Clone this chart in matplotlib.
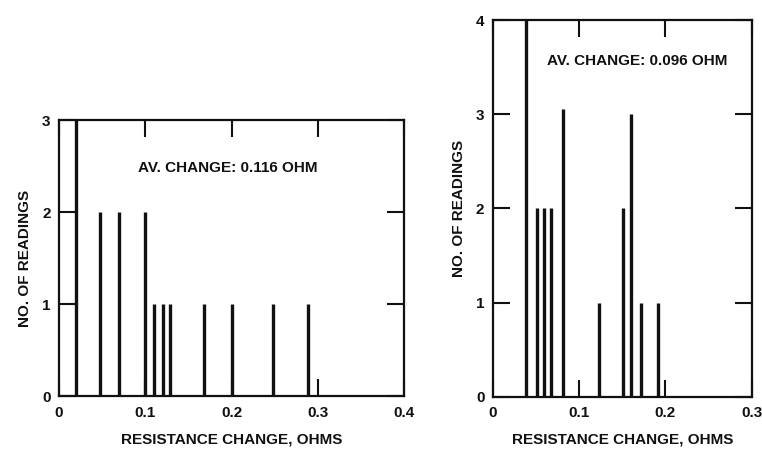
import matplotlib.pyplot as plt

# left panel: resistance change (ohms) and number of readings
left_x = [0.020, 0.048, 0.069, 0.100, 0.110, 0.120, 0.129, 0.168, 0.200, 0.248, 0.289]
left_n = [3, 2, 2, 2, 1, 1, 1, 1, 1, 1, 1]
left_note = "AV. CHANGE: 0.116 OHM"

# right panel
right_x = [0.038, 0.051, 0.059, 0.067, 0.081, 0.123, 0.151, 0.160, 0.172, 0.191]
right_n = [4, 2, 2, 2, 3.05, 1, 2, 3, 1, 1]
right_note = "AV. CHANGE: 0.096 OHM"

left_xticks = [0, 0.1, 0.2, 0.3, 0.4]
left_xlabels = ["0", "0.1", "0.2", "0.3", "0.4"]
right_xticks = [0, 0.1, 0.2, 0.3]
right_xlabels = ["0", "0.1", "0.2", "0.3"]

plt.rcParams['font.family'] = ['Liberation Sans', 'DejaVu Sans']
plt.rcParams['font.weight'] = 'bold'
ink = '#111111'

fig = plt.figure(figsize=(7.62, 4.53), dpi=100)
ax1 = fig.add_axes([0.0774, 0.1258, 0.453, 0.609])
ax2 = fig.add_axes([0.6466, 0.1243, 0.340, 0.8315])


def draw_panel(ax, xs, ns, xmax, ymax, xticks, xlabels, note, note_xy):
    ax.vlines(xs, 0, ns, color=ink, linewidth=2.4)
    ax.set_xlim(0, xmax)
    ax.set_ylim(0, ymax)
    ax.set_xticks(xticks)
    ax.set_xticklabels(xlabels)
    ax.set_yticks(range(ymax + 1))
    ax.tick_params(direction='in', length=12, width=1.5, top=True, right=True,
                   labelsize=11, colors=ink)
    ax.tick_params(axis='x', pad=7)
    ax.tick_params(axis='y', pad=6)
    for s in ax.spines.values():
        s.set_linewidth(1.6)
        s.set_color(ink)
    ax.text(note_xy[0], note_xy[1], note, ha='center', va='center',
            fontsize=11, fontweight='bold', color=ink)
    ax.set_xlabel("RESISTANCE CHANGE, OHMS", fontsize=11, fontweight='bold',
                  color=ink, labelpad=9)
    ax.set_ylabel("NO. OF READINGS", fontsize=11, fontweight='bold',
                  color=ink, labelpad=7)


draw_panel(ax1, left_x, left_n, 0.4, 3, left_xticks, left_xlabels,
           left_note, (0.195, 2.48))
draw_panel(ax2, right_x, right_n, 0.3, 4, right_xticks, right_xlabels,
           right_note, (0.167, 3.56))

fig.savefig("out.png", dpi=100)
